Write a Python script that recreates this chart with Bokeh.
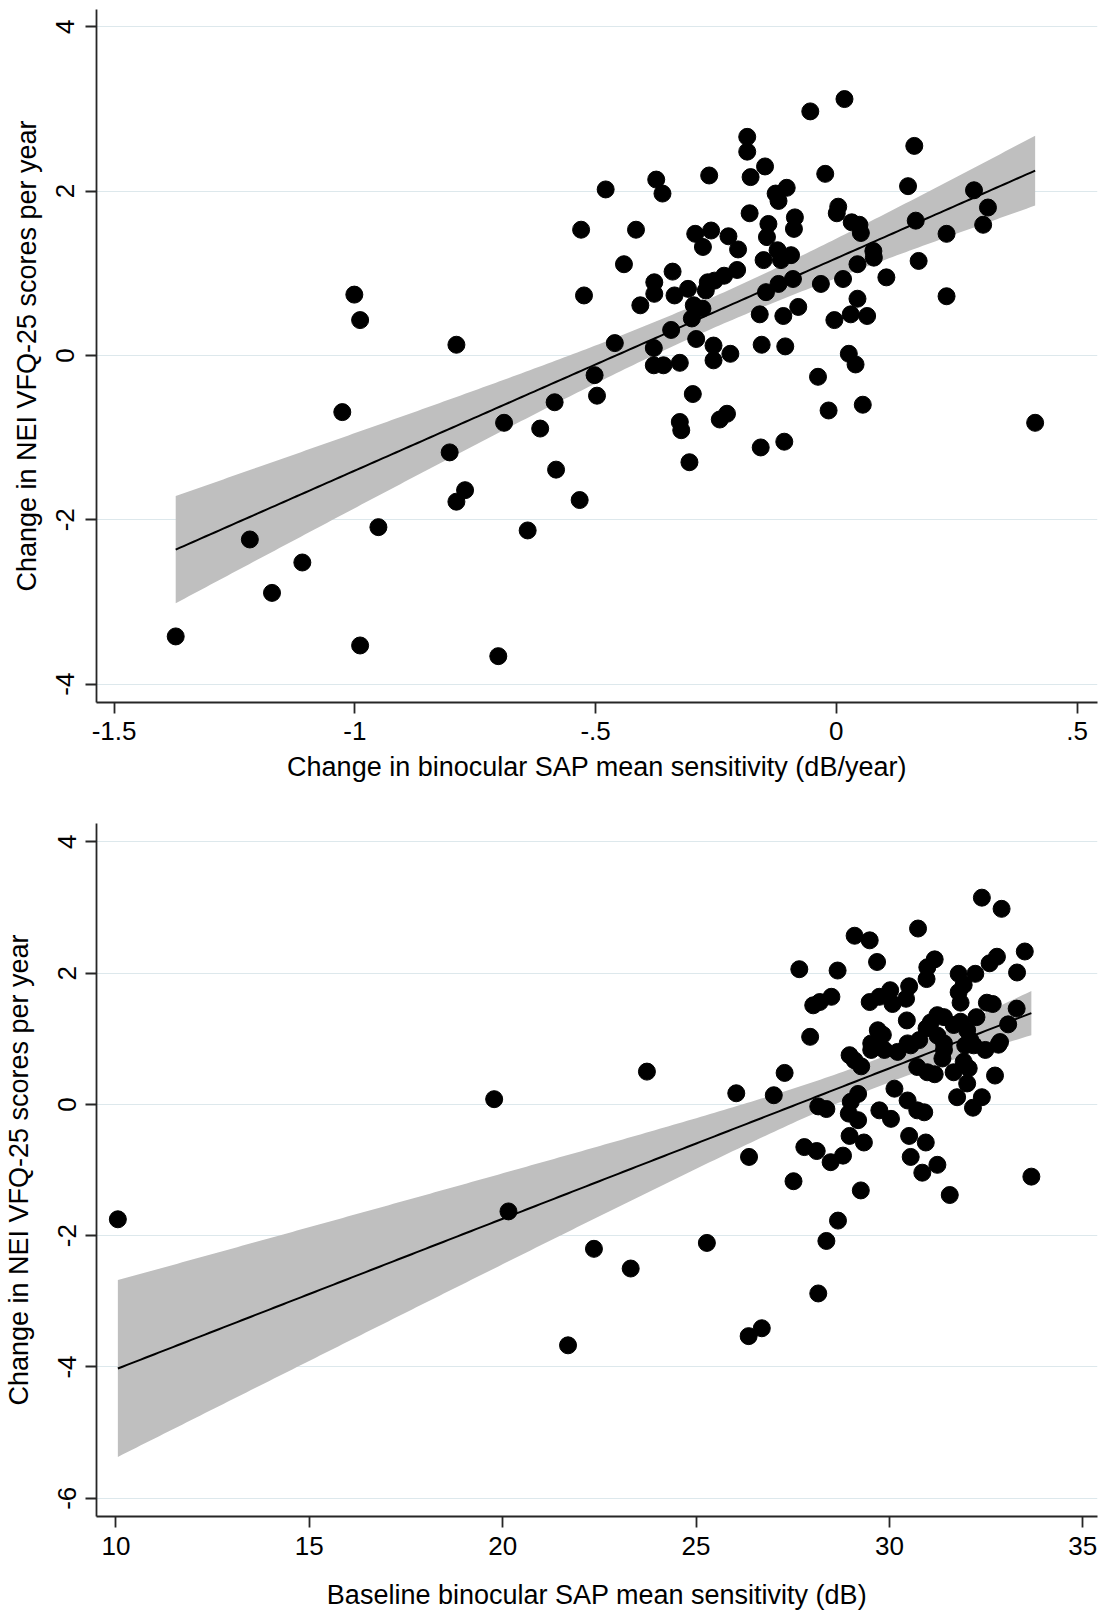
import numpy as np
from bokeh.plotting import figure
from bokeh.layouts import column
from bokeh.models import Range1d, FixedTicker
from bokeh.embed import file_html
from bokeh.resources import INLINE

# ---------------- Panel 1: change in sensitivity vs change in VFQ-25 ----------------
x1 = [-1.372, -1.218, -1.172, -1.109, -1.026, -1.001, -0.989, -0.989, -0.951, -0.803,
      -0.789, -0.789, -0.771, -0.702, -0.690, -0.641, -0.615, -0.582, -0.533, -0.585,
      0.017, -0.054, -0.185, -0.185, -0.148, -0.178, -0.264, -0.023, 0.162, 0.149,
      -0.479, -0.374, -0.361, -0.126, -0.103, -0.120, -0.180, 0.004, 0.001, 0.286,
      0.315, 0.305, 0.165, 0.032, 0.048, 0.051, -0.086, -0.088, -0.141, -0.144,
      -0.530, -0.416, -0.293, -0.260, -0.277, -0.224, -0.204, 0.229, -0.122, -0.094,
      -0.151, -0.115, 0.077, 0.078, 0.171, -0.441, 0.044, 0.104, -0.340, -0.378,
      -0.378, -0.206, -0.233, -0.253, -0.267, -0.271, -0.308, -0.336, -0.407, -0.524,
      -0.120, -0.090, -0.146, -0.032, 0.014, 0.229, 0.044, -0.296, -0.278, -0.300,
      -0.343, -0.159, -0.110, -0.079, -0.004, 0.030, 0.064, -0.460, -0.291, -0.379,
      -0.379, -0.359, -0.325, -0.255, -0.255, -0.220, -0.155, -0.106, -0.502, -0.497,
      0.026, 0.040, -0.038, -0.298, -0.016, 0.055, 0.413, -0.227, -0.242, -0.325,
      -0.322, -0.108, -0.305, -0.157]
y1 = [-3.42, -2.24, -2.89, -2.52, -0.69, 0.74, 0.43, -3.53, -2.09, -1.18,
      0.13, -1.78, -1.64, -3.66, -0.82, -2.13, -0.89, -1.39, -1.76, -0.57,
      3.12, 2.97, 2.66, 2.48, 2.30, 2.17, 2.19, 2.21, 2.55, 2.06,
      2.02, 2.14, 1.97, 1.97, 2.04, 1.88, 1.73, 1.81, 1.73, 2.01,
      1.80, 1.59, 1.64, 1.62, 1.59, 1.49, 1.68, 1.54, 1.60, 1.44,
      1.53, 1.53, 1.48, 1.52, 1.32, 1.45, 1.29, 1.48, 1.28, 1.22,
      1.16, 1.16, 1.27, 1.19, 1.15, 1.11, 1.11, 0.95, 1.02, 0.89,
      0.75, 1.04, 0.97, 0.91, 0.89, 0.79, 0.81, 0.73, 0.61, 0.73,
      0.87, 0.93, 0.77, 0.87, 0.93, 0.72, 0.69, 0.61, 0.57, 0.45,
      0.31, 0.50, 0.48, 0.59, 0.43, 0.50, 0.48, 0.15, 0.20, 0.09,
      -0.12, -0.12, -0.09, 0.12, -0.06, 0.02, 0.13, 0.11, -0.24, -0.49,
      0.02, -0.11, -0.26, -0.47, -0.67, -0.60, -0.82, -0.71, -0.78, -0.81,
      -0.91, -1.05, -1.30, -1.12]

# ---------------- Panel 2: baseline sensitivity vs change in VFQ-25 ----------------
x2 = [10.05, 19.78, 20.15, 23.73, 22.36, 23.31, 21.69, 26.36, 26.70, 28.16,
      32.39, 32.90, 30.74, 29.10, 29.49, 29.68, 27.67, 28.66, 31.17, 30.98,
      30.96, 33.50, 32.78, 32.59, 33.30, 31.79, 32.22, 31.92, 28.03, 28.20,
      28.50, 29.49, 29.74, 30.02, 30.51, 30.43, 30.08, 31.79, 31.84, 32.52,
      32.67, 33.29, 32.25, 30.45, 31.24, 31.41, 31.84, 33.07, 29.70, 29.83,
      30.96, 31.07, 31.66, 32.01, 27.95, 29.53, 30.47, 30.77, 31.24, 31.41,
      31.96, 32.09, 32.86, 29.53, 29.87, 30.21, 30.55, 28.97, 29.10, 29.27,
      31.41, 31.37, 32.18, 32.48, 32.82, 30.72, 30.98, 31.17, 31.66, 31.92,
      32.05, 32.01, 32.73, 27.29, 26.04, 27.01, 31.75, 32.39, 32.16, 30.13,
      28.16, 28.37, 29.19, 29.00, 28.95, 29.19, 28.97, 30.47, 30.72, 30.90,
      29.74, 30.04, 29.34, 30.51, 30.94, 26.37, 27.80, 28.12, 28.48, 28.80,
      30.55, 31.24, 30.85, 33.67, 27.52, 29.26, 31.56, 28.67, 25.28, 28.37]
y2 = [-1.75, 0.08, -1.63, 0.50, -2.20, -2.50, -3.67, -3.53, -3.41, -2.88,
      3.15, 2.98, 2.68, 2.57, 2.50, 2.17, 2.06, 2.04, 2.21, 2.09,
      1.91, 2.33, 2.25, 2.15, 2.01, 1.99, 1.99, 1.82, 1.51, 1.56,
      1.64, 1.56, 1.64, 1.74, 1.80, 1.61, 1.53, 1.71, 1.55, 1.55,
      1.53, 1.46, 1.33, 1.28, 1.36, 1.33, 1.26, 1.22, 1.13, 1.06,
      1.16, 1.25, 1.21, 1.13, 1.03, 0.93, 0.93, 0.98, 1.05, 0.93,
      0.90, 0.98, 0.95, 0.83, 0.83, 0.80, 0.90, 0.75, 0.67, 0.58,
      0.83, 0.70, 0.90, 0.83, 0.91, 0.57, 0.49, 0.46, 0.49, 0.65,
      0.55, 0.32, 0.44, 0.48, 0.17, 0.14, 0.11, 0.11, -0.05, 0.24,
      -0.03, -0.07, 0.16, 0.04, -0.14, -0.24, -0.48, 0.06, -0.09, -0.12,
      -0.09, -0.22, -0.58, -0.48, -0.58, -0.80, -0.65, -0.71, -0.88, -0.78,
      -0.80, -0.92, -1.04, -1.10, -1.17, -1.31, -1.38, -1.77, -2.11, -2.08]

# tick values and labels
x1_ticks = [-1.5, -1.0, -0.5, 0.0, 0.5]
x1_labels = ["-1.5", "-1", "-.5", "0", ".5"]
y1_ticks = [-4, -2, 0, 2, 4]
y1_labels = ["-4", "-2", "0", "2", "4"]
x2_ticks = [10, 15, 20, 25, 30, 35]
x2_labels = ["10", "15", "20", "25", "30", "35"]
y2_ticks = [-6, -4, -2, 0, 2, 4]
y2_labels = ["-6", "-4", "-2", "0", "2", "4"]

x1_title = "Change in binocular SAP mean sensitivity (dB/year)"
x2_title = "Baseline binocular SAP mean sensitivity (dB)"
y_title = "Change in NEI VFQ-25 scores per year"

FONT = "Liberation Sans"


def fit_band(x, y, t=1.98, n_pts=200):
    x = np.asarray(x, float)
    y = np.asarray(y, float)
    n = len(x)
    xb = x.mean()
    sxx = ((x - xb) ** 2).sum()
    b = ((x - xb) * (y - y.mean())).sum() / sxx
    a = y.mean() - b * xb
    s = np.sqrt(((y - (a + b * x)) ** 2).sum() / (n - 2))
    xs = np.linspace(x.min(), x.max(), n_pts)
    yh = a + b * xs
    se = s * np.sqrt(1.0 / n + (xs - xb) ** 2 / sxx)
    return xs, yh, yh - t * se, yh + t * se


def make_panel(x, y, xr, yr, xt, xlab, yt, ylab, xtitle, height, mb, xl_stand, xt_stand,
               yl_stand, yt_stand):
    p = figure(width=1109, height=height, x_range=Range1d(*xr), y_range=Range1d(*yr),
               output_backend="svg", toolbar_location=None,
               min_border_left=mb[0], min_border_right=mb[1],
               min_border_top=mb[2], min_border_bottom=mb[3])
    p.outline_line_color = None
    p.background_fill_color = "white"
    p.border_fill_color = "white"

    xs, yh, lo, hi = fit_band(x, y)
    p.varea(x=xs, y1=lo, y2=hi, fill_color="#bfbfbf", fill_alpha=1.0)
    p.line(xs, yh, line_color="black", line_width=2)
    p.scatter(x, y, size=17, fill_color="black", line_color="black", marker="circle")

    p.xaxis.ticker = FixedTicker(ticks=xt)
    p.xaxis.major_label_overrides = {v: s for v, s in zip(xt, xlab)}
    p.yaxis.ticker = FixedTicker(ticks=yt)
    p.yaxis.major_label_overrides = {v: s for v, s in zip(yt, ylab)}
    p.xgrid.grid_line_color = None
    p.ygrid.ticker = FixedTicker(ticks=yt)
    p.ygrid.grid_line_color = "#dde8ec"
    p.ygrid.grid_line_width = 1.2

    for ax in (p.xaxis[0], p.yaxis[0]):
        ax.axis_line_color = "#262626"
        ax.axis_line_width = 1.8
        ax.major_tick_line_color = "#262626"
        ax.major_tick_line_width = 1.8
        ax.major_tick_out = 11
        ax.major_tick_in = 0
        ax.minor_tick_line_color = None
        ax.major_label_text_font = FONT
        ax.major_label_text_font_size = "26px"
        ax.major_label_text_color = "black"
        ax.axis_label_text_font = FONT
        ax.axis_label_text_font_size = "27px"
        ax.axis_label_text_font_style = "normal"
        ax.axis_label_text_color = "black"

    p.xaxis.axis_label = xtitle
    p.xaxis.major_label_standoff = xl_stand
    p.xaxis.axis_label_standoff = xt_stand
    p.yaxis.axis_label = y_title
    p.yaxis.major_label_orientation = "vertical"
    p.yaxis.major_label_standoff = yl_stand
    p.yaxis.axis_label_standoff = yt_stand
    return p


p1 = make_panel(x1, y1, (-1.5365, 0.5425), (-4.224, 4.21), x1_ticks, x1_labels,
                y1_ticks, y1_labels, x1_title, 790, (90, 12, 9, 88), 8, 9, 11, 12)
p2 = make_panel(x2, y2, (9.498, 35.38), (-6.278, 4.28), x2_ticks, x2_labels,
                y2_ticks, y2_labels, x2_title, 826, (93, 9, 33, 100), 9, 22, 9, 22)

layout = column(p1, p2, spacing=0)
open("out.html", "w").write(file_html(layout, INLINE))
